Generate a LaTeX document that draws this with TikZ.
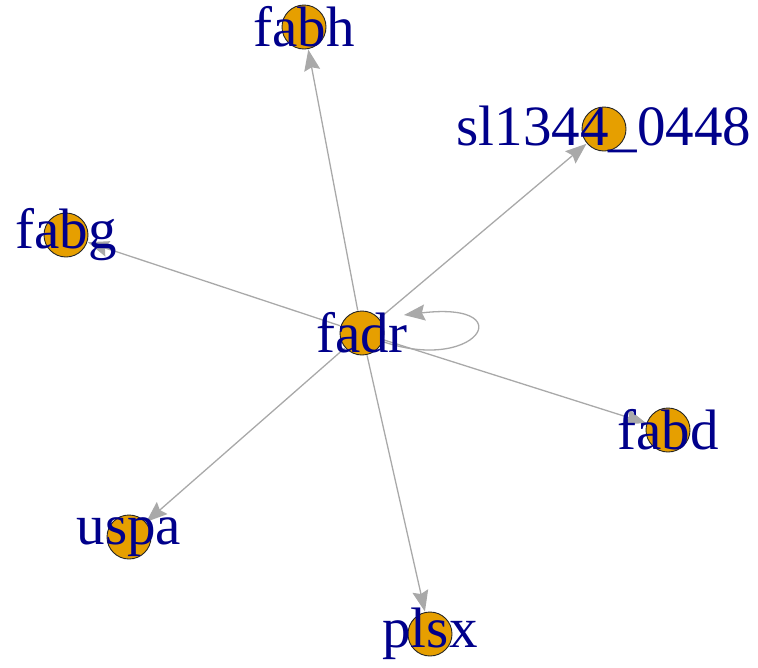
\documentclass[tikz,border=0pt]{standalone}
\usepackage{fontspec}
\setmainfont{Liberation Serif}
\usetikzlibrary{arrows.meta}
\definecolor{vfill}{HTML}{E69F00}
\definecolor{lblue}{HTML}{00008B}
\definecolor{egray}{HTML}{A9A9A9}
\pgfdeclarelayer{bg}
\pgfsetlayers{bg,main}
\begin{document}
\begin{tikzpicture}[x=1pt,y=-1pt,
  vert/.style={circle,draw=black!85,line width=0.9pt,fill=vfill,minimum size=44pt,inner sep=0pt,outer sep=1pt},
  lbl/.style={text=lblue,inner sep=0pt,font=\fontsize{57}{60}\selectfont},
  edge/.style={draw=egray,line width=1.3pt,-{Stealth[length=21pt,width=16pt,inset=3pt]}}]
\useasboundingbox (0,0) rectangle (758,667);
% vertices
\node[vert] (fabh) at (304,27) {};
\node[vert] (sl)   at (604,129) {};
\node[vert] (fabg) at (66,235) {};
\node[vert] (fadr) at (362,333) {};
\node[vert] (fabd) at (668,430) {};
\node[vert] (uspa) at (129,537) {};
\node[vert] (plsx) at (430,634) {};
\coordinate (loopend) at (404,315);
% edges
\begin{pgfonlayer}{bg}
\draw[edge] (fadr) -- (fabh);
\draw[edge] (fadr) -- (sl);
\draw[edge] (fadr) -- (fabg);
\draw[edge] (fadr) -- (fabd);
\draw[edge] (fadr) -- (uspa);
\draw[edge] (fadr) -- (plsx);
\draw[edge] (fadr.center) .. controls (470,385) and (530,300) .. (loopend);
\end{pgfonlayer}
% labels
\node[lbl] (fabh-l) at (fabh) {fabh};
\node[lbl] (sl-l)   at (sl)   {sl1344\_0448};
\node[lbl] (fabg-l) at (fabg) {fabg};
\node[lbl] (fadr-l) at (fadr) {fadr};
\node[lbl] (fabd-l) at (fabd) {fabd};
\node[lbl] (uspa-l) at (uspa) {uspa};
\node[lbl] (plsx-l) at (plsx) {plsx};
\end{tikzpicture}
\end{document}
